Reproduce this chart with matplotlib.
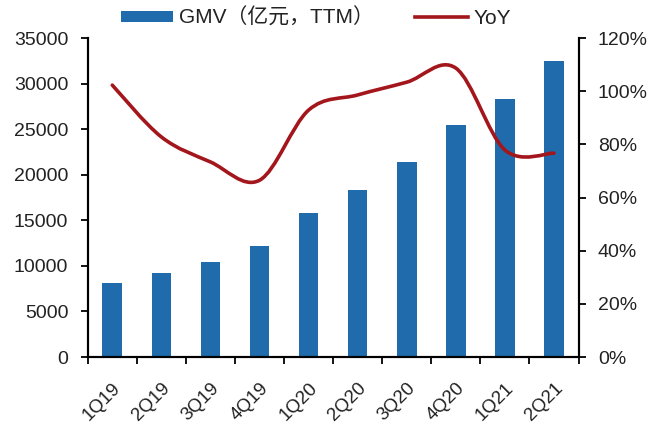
import matplotlib
matplotlib.use("Agg")
import matplotlib.pyplot as plt
from matplotlib.path import Path
from matplotlib.patches import PathPatch, Patch
from matplotlib.lines import Line2D
from matplotlib.ticker import MultipleLocator, FuncFormatter
import numpy as np

plt.rcParams['font.family'] = ['Liberation Sans', 'Noto Sans CJK SC', 'DejaVu Sans']

categories = ['1Q19', '2Q19', '3Q19', '4Q19', '1Q20', '2Q20', '3Q20', '4Q20', '1Q21', '2Q21']
gmv = [8120, 9200, 10420, 12180, 15800, 18300, 21400, 25450, 28300, 32480]
yoy = [102.3, 82.8, 73.4, 66.5, 92.9, 98.6, 103.4, 108.7, 77.9, 76.7]

bar_color = '#1F6BAC'
line_color = '#A3161C'
FS = 14

fig = plt.figure(figsize=(6.5, 4.23), dpi=100)
ax = fig.add_axes([0.135, 0.156, 0.755, 0.754])
ax2 = ax.twinx()

x = np.arange(len(categories))
ax.bar(x, gmv, width=0.4, color=bar_color, zorder=2)
ax.set_xlim(-0.5, len(categories) - 0.5)
ax.set_ylim(0, 35000)
ax.yaxis.set_major_locator(MultipleLocator(5000))
ax2.set_ylim(0, 120)
ax2.yaxis.set_major_locator(MultipleLocator(20))
ax2.yaxis.set_major_formatter(FuncFormatter(lambda v, p: f"{int(v)}%"))

# smooth line (Bezier through data points)
pts = np.column_stack([x, yoy]).astype(float)
n = len(pts)
verts = [pts[0]]
codes = [Path.MOVETO]
for i in range(n - 1):
    p0 = pts[i - 1] if i > 0 else pts[i]
    p1 = pts[i]
    p2 = pts[i + 1]
    p3 = pts[i + 2] if i + 2 < n else pts[i + 1]
    c1 = p1 + (p2 - p0) / 6.0
    c2 = p2 - (p3 - p1) / 6.0
    verts += [c1, c2, p2]
    codes += [Path.CURVE4] * 3
path = Path(verts, codes)
ax2.add_patch(PathPatch(path, facecolor='none', edgecolor=line_color, lw=2.6,
                        capstyle='round', joinstyle='round', zorder=3))

# ticks
ax.set_xticks(x)
ax.set_xticklabels(categories, rotation=45, ha='right', rotation_mode='anchor', fontsize=13.5,
                   color='#222222')
ax.tick_params(axis='x', which='major', length=0, pad=16)
ax.set_xticks(np.arange(-0.5, len(categories), 1.0), minor=True)
ax.tick_params(axis='x', which='minor', length=5, width=1.3, direction='out', color='black')
ax.tick_params(axis='y', length=5, width=1.3, direction='out', labelsize=FS, pad=9,
               labelcolor='#222222')
ax2.tick_params(axis='y', length=5, width=1.3, direction='out', labelsize=FS, pad=9,
                labelcolor='#222222')

for a in (ax, ax2):
    a.spines['top'].set_visible(False)
    for s in ('left', 'right', 'bottom'):
        a.spines[s].set_linewidth(1.5)
        a.spines[s].set_color('black')

handles = [Patch(facecolor=bar_color, edgecolor='none'),
           Line2D([0], [0], color=line_color, lw=2.6)]
fig.legend(handles, ['GMV（亿元，TTM）', 'YoY'], loc='center', bbox_to_anchor=(0.486, 0.958),
           ncol=2, frameon=False, fontsize=15, handlelength=2.5, handleheight=0.42,
           columnspacing=2.0, handletextpad=0.3, labelcolor='#222222')

fig.savefig('out.png', dpi=100, facecolor='white')
